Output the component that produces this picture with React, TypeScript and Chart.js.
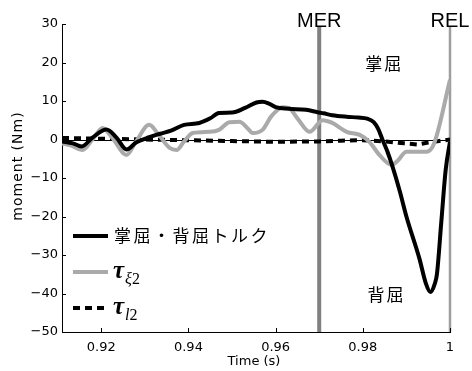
import React, { useEffect, useRef } from "react";
import { Chart, registerables } from "chart.js";

Chart.register(...registerables);

// ---- data ----
const momentT = [0.911, 0.9135, 0.9155, 0.918, 0.9212, 0.9235, 0.9258, 0.928, 0.931, 0.9335, 0.936, 0.939, 0.9425, 0.945, 0.947, 0.95, 0.953, 0.9556, 0.957, 0.9585, 0.96, 0.963, 0.967, 0.9696, 0.971, 0.973, 0.9763, 0.979, 0.981, 0.9825, 0.9835, 0.9845, 0.9856, 0.9868, 0.9885, 0.99, 0.993, 0.9945, 0.9955, 0.9965, 0.997, 0.998, 0.999, 1.0];
const momentV = [-0.5, -1.0, -1.8, 0.5, 2.6, 0.5, -2.6, -0.8, 0.6, 1.5, 2.3, 3.8, 4.3, 5.5, 6.9, 7.0, 8.2, 9.6, 9.8, 9.3, 8.4, 8.0, 7.7, 7.1, 6.8, 6.3, 5.9, 5.7, 5.4, 4.5, 2.8, 0.0, -3.0, -7.0, -13.5, -20, -31, -37.5, -39.6, -37.5, -35, -21.5, -8, -0.5];

const tauXiT = [0.911, 0.913, 0.9157, 0.918, 0.9203, 0.9225, 0.9258, 0.928, 0.931, 0.933, 0.9357, 0.9373, 0.939, 0.941, 0.9449, 0.947, 0.9494, 0.9517, 0.9535, 0.9547, 0.957, 0.959, 0.9616, 0.963, 0.965, 0.9678, 0.9708, 0.973, 0.9763, 0.9793, 0.9815, 0.9838, 0.9866, 0.988, 0.99, 0.9946, 0.9964, 1.0];
const tauXiV = [-1.0, -1.5, -2.7, 0.0, 3.0, 0.5, -4.0, -0.5, 3.8, 1.5, -2.2, -2.7, -0.5, 1.7, 2.0, 2.5, 4.5, 4.6, 3.0, 1.7, 2.5, 6.0, 8.4, 8.2, 5.5, 2.0, 5.0, 4.3, 2.0, 1.2, -0.6, -4.0, -6.6, -5.5, -3.2, -3.2, -0.9, 15.5];

const tauLT = [0.911, 0.92, 0.93, 0.94, 0.95, 0.96, 0.97, 0.975, 0.98, 0.985, 0.9895, 0.9925, 0.995, 0.9975, 1.0];
const tauLV = [0.4, 0.2, 0.0, -0.2, -0.4, -0.6, -0.5, -0.3, -0.2, -0.5, -1.0, -1.3, -0.8, -0.4, 0.0];

const seriesLabels = ["掌屈・背屈トルク", "τξ2", "τl2"];

const xTickValues = [0.92, 0.94, 0.96, 0.98, 1.0];
const yTickValues = [-50, -40, -30, -20, -10, 0, 10, 20, 30];
const xMin = 0.911;
const xMax = 1.0;
const yMin = -50;
const yMax = 30;

const eventTimes = [0.97, 1.0];
const eventLabels = ["MER", "REL"];

const regionLabels = ["掌屈", "背屈"];
const regionT = [0.9847, 0.9852];
const regionV = [19.7, -40.4];

const xTitle = "Time (s)";
const yTitle = "moment (Nm)";

// ---- styles ----
const eventStyles = [
  { color: "#808080", width: 4 },
  { color: "#9e9e9e", width: 2.5 },
];
const legendStyles = [
  { color: "#000", width: 4, dash: [] as number[] },
  { color: "#aaaaaa", width: 4, dash: [] as number[] },
  { color: "#000", width: 4, dash: [7, 5] },
];

const toPts = (t: number[], v: number[]) => t.map((tt, i) => ({ x: tt, y: v[i] }));
const fmt = (v: number) => (v < 0 ? "\u2212" + Math.abs(v) : String(v));

const overlay = {
  id: "overlay",
  beforeDatasetsDraw(chart: any) {
    const { ctx, chartArea: a, scales } = chart;
    const x = scales.x;
    const y = scales.y;
    ctx.save();
    const y0 = Math.round(y.getPixelForValue(0)) + 0.5;
    ctx.strokeStyle = "#000";
    ctx.lineWidth = 1;
    ctx.beginPath();
    ctx.moveTo(a.left, y0);
    ctx.lineTo(a.right, y0);
    ctx.stroke();
    eventTimes.forEach((t, i) => {
      const px = x.getPixelForValue(t);
      ctx.strokeStyle = eventStyles[i].color;
      ctx.lineWidth = eventStyles[i].width;
      ctx.beginPath();
      ctx.moveTo(px, a.top + 3);
      ctx.lineTo(px, a.bottom);
      ctx.stroke();
    });
    ctx.restore();
  },
  afterDraw(chart: any) {
    const { ctx, chartArea: a, scales } = chart;
    const x = scales.x;
    const y = scales.y;
    ctx.save();
    // inward ticks
    ctx.strokeStyle = "#000";
    ctx.lineWidth = 1;
    xTickValues.forEach((v) => {
      const px = Math.round(x.getPixelForValue(v)) + 0.5;
      ctx.beginPath();
      ctx.moveTo(px, a.bottom);
      ctx.lineTo(px, a.bottom - 4);
      ctx.stroke();
    });
    yTickValues.forEach((v) => {
      const py = Math.round(y.getPixelForValue(v)) + 0.5;
      ctx.beginPath();
      ctx.moveTo(a.left, py);
      ctx.lineTo(a.left + 4, py);
      ctx.stroke();
    });
    // event labels
    ctx.fillStyle = "#000";
    ctx.font = '20px "Liberation Sans", Arial, sans-serif';
    ctx.textAlign = "center";
    ctx.textBaseline = "alphabetic";
    eventTimes.forEach((t, i) => {
      ctx.fillText(eventLabels[i], x.getPixelForValue(t), a.top + 3);
    });
    // region labels
    ctx.font = '17px "Noto Sans CJK JP", sans-serif';
    ctx.textBaseline = "middle";
    (ctx as any).letterSpacing = "2px";
    regionLabels.forEach((s, i) => {
      ctx.fillText(s, x.getPixelForValue(regionT[i]) + 1, y.getPixelForValue(regionV[i]));
    });
    (ctx as any).letterSpacing = "0px";
    // axis titles
    ctx.font = '13px "DejaVu Sans", sans-serif';
    ctx.textAlign = "center";
    ctx.textBaseline = "middle";
    ctx.fillText(xTitle, (a.left + a.right) / 2 - 2, a.bottom + 30);
    ctx.save();
    ctx.translate(18, (a.top + a.bottom) / 2 - 12);
    ctx.rotate(-Math.PI / 2);
    (ctx as any).letterSpacing = "1px";
    ctx.font = '14px "DejaVu Sans", sans-serif';
    ctx.fillText(yTitle, 0, 0);
    ctx.restore();
    // legend
    const lx0 = a.left + 11;
    const lx1 = lx0 + 35;
    const rowY = [y.getPixelForValue(-25), y.getPixelForValue(-34.4), y.getPixelForValue(-43.8)];
    seriesLabels.forEach((lab, i) => {
      const st = legendStyles[i];
      const ly = Math.round(rowY[i]);
      ctx.strokeStyle = st.color;
      ctx.lineWidth = st.width;
      ctx.setLineDash(st.dash);
      ctx.beginPath();
      ctx.moveTo(lx0, ly);
      ctx.lineTo(lx1, ly);
      ctx.stroke();
      ctx.setLineDash([]);
      ctx.fillStyle = "#000";
      ctx.textAlign = "left";
      const tx = lx1 + 5;
      if (lab.startsWith("τ")) {
        ctx.textBaseline = "alphabetic";
        ctx.font = 'italic bold 25px "Liberation Serif", serif';
        ctx.fillText("τ", tx, ly + 6);
        const w = ctx.measureText("τ").width;
        const sub = lab.slice(1);
        ctx.font = 'italic 16px "Liberation Serif", serif';
        ctx.fillText(sub[0], tx + w + 1, ly + 12);
        const w2 = ctx.measureText(sub[0]).width;
        ctx.font = '16px "Liberation Serif", serif';
        ctx.fillText(sub.slice(1), tx + w + 1 + w2, ly + 12);
      } else {
        ctx.textBaseline = "middle";
        ctx.font = '17px "Noto Sans CJK JP", sans-serif';
        (ctx as any).letterSpacing = "2.5px";
        ctx.fillText(lab, tx + 1, ly);
        (ctx as any).letterSpacing = "0px";
      }
    });
    ctx.restore();
  },
};

export default function App() {
  const ref = useRef<HTMLCanvasElement>(null);
  useEffect(() => {
    if (!ref.current) return;
    const chart = new Chart(ref.current, {
      type: "line",
      data: {
        datasets: [
          {
            label: seriesLabels[0],
            data: toPts(momentT, momentV),
            borderColor: "#000",
            borderWidth: 4,
            pointRadius: 0,
            cubicInterpolationMode: "monotone",
            order: 1,
          },
          {
            label: seriesLabels[1],
            data: toPts(tauXiT, tauXiV),
            borderColor: "#aaaaaa",
            borderWidth: 4,
            pointRadius: 0,
            cubicInterpolationMode: "monotone",
            order: 2,
          },
          {
            label: seriesLabels[2],
            data: toPts(tauLT, tauLV),
            borderColor: "#000",
            borderWidth: 4,
            borderDash: [7, 5],
            pointRadius: 0,
            order: 3,
          },
        ],
      },
      options: {
        responsive: false,
        animation: false,
        devicePixelRatio: 1,
        layout: { padding: { top: 24, right: 22, left: 0, bottom: 0 } },
        plugins: { legend: { display: false }, tooltip: { enabled: false } },
        scales: {
          x: {
            type: "linear",
            min: xMin,
            max: xMax,
            grid: { display: false, drawTicks: false },
            border: { display: true, color: "#000", width: 1 },
            afterBuildTicks: (s: any) => {
              s.ticks = xTickValues.map((v) => ({ value: v }));
            },
            afterFit: (s: any) => {
              s.height = 39;
            },
            ticks: {
              padding: 8,
              color: "#000",
              font: { family: "DejaVu Sans", size: 13 },
              callback: (v: any) => String(Number(v)),
              maxRotation: 0,
            },
          },
          y: {
            type: "linear",
            min: yMin,
            max: yMax,
            grid: { display: false, drawTicks: false },
            border: { display: true, color: "#000", width: 1 },
            afterBuildTicks: (s: any) => {
              s.ticks = yTickValues.map((v) => ({ value: v }));
            },
            afterFit: (s: any) => {
              s.width = 62;
            },
            ticks: {
              padding: 4,
              color: "#000",
              font: { family: "DejaVu Sans", size: 13 },
              callback: (v: any) => fmt(Number(v)),
            },
          },
        },
      } as any,
      plugins: [overlay],
    });
    return () => chart.destroy();
  }, []);
  return (
    <div style={{ position: "fixed", left: 0, top: 0, width: 472, height: 371, background: "#fff" }}>
      <canvas ref={ref} width={472} height={371} />
    </div>
  );
}
